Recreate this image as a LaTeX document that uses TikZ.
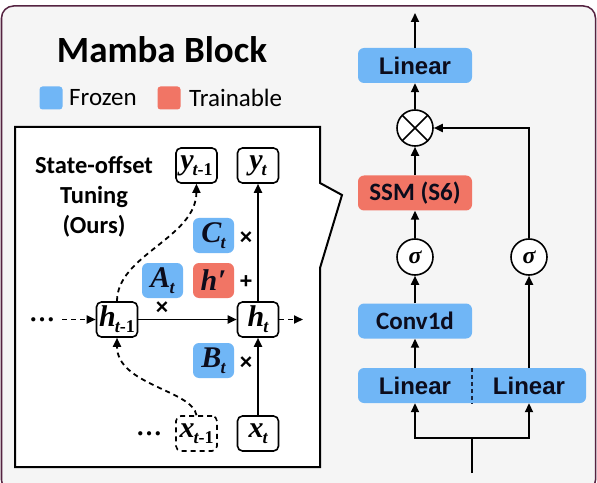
\documentclass[tikz,border=0pt]{standalone}
\usepackage{fontspec}
\usetikzlibrary{arrows.meta}
\newfontfamily\calf{Carlito}
\newfontfamily\arif{Liberation Sans}
\newfontfamily\tmsf{Liberation Serif}
\definecolor{frz}{RGB}{112,182,246}
\definecolor{trn}{RGB}{241,117,101}
\definecolor{framec}{RGB}{85,35,65}
\definecolor{bgc}{RGB}{245,245,245}
\definecolor{txt}{RGB}{12,12,28}
\newcommand\mlab[2]{{\tmsf\bfseries\itshape\fontsize{30bp}{30bp}\selectfont #1\kern-1pt\raisebox{-0.2em}{\fontsize{18bp}{18bp}\selectfont #2}}}
\tikzset{
  arr/.style={line width=1.8bp, -{Triangle[length=9bp,width=8bp]}},
  ln/.style={line width=1.8bp},
  dsh/.style={dash pattern=on 5bp off 4bp},
  sbox/.style={draw, line width=1.6bp, rounded corners=5bp, minimum width=41bp, minimum height=35bp, inner sep=0pt, fill=white},
  fbox/.style={fill=frz, rounded corners=6bp, minimum width=41bp, minimum height=35bp, inner sep=0pt, text=txt},
  tbox/.style={fill=trn, rounded corners=6bp, minimum width=41bp, minimum height=35bp, inner sep=0pt, text=txt},
  wide/.style={minimum width=114bp, minimum height=35bp},
  circ/.style={circle, draw, line width=1.6bp, minimum size=36bp, inner sep=0pt, fill=white},
  sym/.style={inner sep=0pt, font=\arif\bfseries\fontsize{22bp}{22bp}\selectfont},
  dots/.style={inner sep=0pt, font=\tmsf\bfseries\fontsize{26bp}{26bp}\selectfont},
  arialb/.style={font=\arif\bfseries\fontsize{24bp}{24bp}\selectfont},
  calb/.style={font=\calf\bfseries\fontsize{25bp}{25bp}\selectfont},
  sigf/.style={font=\tmsf\bfseries\itshape\fontsize{24bp}{24bp}\selectfont},
}
\begin{document}
\begin{tikzpicture}[x=1bp,y=-1bp]
\useasboundingbox (0,0) rectangle (597,483);
\begin{scope}
\clip (0,0) rectangle (597,483);
\fill[white] (0,0) rectangle (597,483);
\draw[framec, fill=bgc, line width=1.5bp, rounded corners=12bp] (1.5,6) rectangle (595.5,492);
\end{scope}

% title and legend
\node[inner sep=0pt, font=\calf\bfseries\fontsize{37bp}{37bp}\selectfont] (title) at (162,50) {Mamba Block};
\node[fill=frz, rounded corners=3bp, minimum size=23bp, inner sep=0pt] (lgf) at (51,98) {};
\node[anchor=west, inner sep=0pt, font=\calf\fontsize{25bp}{25bp}\selectfont] (lgft) at (69,98) {Frozen};
\node[fill=trn, rounded corners=3bp, minimum size=23bp, inner sep=0pt] (lgt) at (169,98) {};
\node[anchor=west, inner sep=0pt, font=\calf\fontsize{25bp}{25bp}\selectfont] (lgtt) at (189,98) {Trainable};

% inner callout box
\draw[line width=2bp, fill=white, line join=miter] (15,127) -- (320,127) -- (320,183) -- (342,195) -- (320,268) -- (320,467) -- (15,467) -- cycle;

\node[align=center, inner sep=0pt, font=\calf\bfseries\fontsize{24.5bp}{30bp}\selectfont] (sot) at (94,197) {State-offset\\Tuning\\(Ours)};

\node[sbox] (ym1) at (196.5,165.5) {\mlab{y}{t\upshape -1}};
\node[sbox] (yt) at (258,165.5) {\mlab{y}{t}};
\node[fbox] (Ct) at (213.5,235.5) {\mlab{C}{t}};
\node[fbox] (At) at (162.5,280.5) {\mlab{A}{t}};
\node[tbox] (hp) at (213.5,280.5) {{\tmsf\bfseries\itshape\fontsize{30bp}{30bp}\selectfont h\kern0.5pt\char"2032}};
\node[sbox] (hm1) at (117,319.5) {\mlab{h}{t\upshape -1}};
\node[sbox] (ht) at (258,319.5) {\mlab{h}{t}};
\node[fbox] (Bt) at (213.5,360.5) {\mlab{B}{t}};
\node[sbox, dsh] (xm1) at (196.5,433.5) {\mlab{x}{t\upshape -1}};
\node[sbox] (xt) at (258,433.5) {\mlab{x}{t}};

\node[sym] (m1) at (246,238) {×};
\node[sym] (p1) at (246,282) {+};
\node[sym] (m2) at (162,308) {×};
\node[sym] (m3) at (246,363) {×};
\node[dots] (d1) at (42,320) {…};
\node[dots] (d2) at (149,434) {…};

\coordinate (lin) at (62,319.5);
\coordinate (rout) at (303,319.5);
\draw[arr, dsh] (lin) -- (hm1.west);
\draw[arr, dsh] (ht.east) -- (rout);
\draw[arr] (hm1.east) -- (ht.west);
\draw[arr] (xt.north) -- (ht.south);
\draw[arr] (ht.north) -- (yt.south);
\draw[arr, dsh] (hm1.north) .. controls (117,255) and (196,238) .. (ym1.south);
\draw[arr, dsh] (xm1.north) .. controls (192,390) and (117,385) .. (hm1.south);

% right: Mamba block
\node[fbox, wide, arialb] (lintop) at (415,65.5) {Linear};
\node[circ, path picture={\draw[line width=1.6bp] (path picture bounding box.north west) -- (path picture bounding box.south east) (path picture bounding box.north east) -- (path picture bounding box.south west);}] (ot) at (415,128) {};
\node[tbox, wide, calb] (ssm) at (415,193) {SSM (S6)};
\node[circ, sigf] (sig1) at (415,257) {σ};
\node[circ, sigf] (sig2) at (529,257) {σ};
\node[fbox, wide, calb] (conv) at (415,321) {Conv1d};
\node[fill=frz, rounded corners=6bp, minimum width=228bp, minimum height=35bp, inner sep=0pt] (linbox) at (472,385.5) {};
\node[arialb, text=txt, inner sep=0pt] (linL) at (415,385.5) {Linear};
\node[arialb, text=txt, inner sep=0pt] (linR) at (529,385.5) {Linear};
\draw[line width=1.5bp, dash pattern=on 4bp off 3bp, txt!85!frz] (linbox.north) -- (linbox.south);

\coordinate (out) at (415,13);
\coordinate (inp) at (472,473);
\coordinate (split) at (472,438);
\draw[arr] (lintop.north) -- (out);
\draw[arr] (ot.north) -- (lintop.south);
\draw[arr] (ssm.north) -- (ot.south);
\draw[arr] (sig1.north) -- (ssm.south);
\draw[arr] (conv.north) -- (sig1.south);
\draw[arr] (linL |- linbox.north) -- (conv.south);
\draw[arr] (linR |- linbox.north) -- (sig2.south);
\draw[arr] (sig2.north) |- (ot.east);
\draw[ln] (inp) -- (split);
\draw[arr] (split) -| (linL |- linbox.south);
\draw[arr] (split) -| (linR |- linbox.south);
\end{tikzpicture}
\end{document}
